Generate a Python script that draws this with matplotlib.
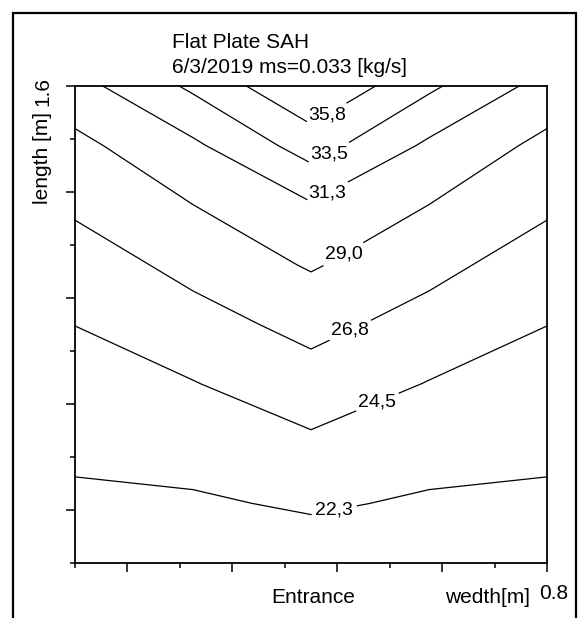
import matplotlib.pyplot as plt
from matplotlib.patches import Rectangle
import numpy as np

plt.rcParams['font.family'] = ['Liberation Sans', 'DejaVu Sans']

# grid of the plate: width [m] columns, length [m] rows
width_x = [0.0, 0.2, 0.4, 0.6, 0.8]
length_y = [0.0, 0.2, 0.4, 0.6, 0.8, 1.0, 1.2, 1.4, 1.6]

# temperatures on the grid (rows = length, cols = width)
temp = [
    [21.0, 21.0, 21.0, 21.0, 21.0],
    [21.9, 22.0, 22.6, 22.0, 21.9],
    [22.8, 23.3, 24.1, 23.3, 22.8],
    [23.7, 24.4, 25.8, 24.4, 23.7],
    [24.52, 25.9, 27.5, 25.9, 24.52],
    [25.6, 27.5, 29.2, 27.5, 25.6],
    [27.2, 28.98, 31.1, 28.98, 27.2],
    [28.4, 30.9, 34.5, 30.9, 28.4],
    [30.5, 33.9, 38.1, 33.9, 30.5],
]

levels = [22.3, 24.5, 26.8, 29.0, 31.3, 33.5, 35.8]

# where the contour labels sit (width, length)
label_pos = [(0.44, 0.171), (0.5125, 0.540), (0.4685, 0.772), (0.4567, 1.030),
             (0.4296, 1.236), (0.4296, 1.376), (0.4296, 1.493)]

W, H = 586, 618
fig = plt.figure(figsize=(W / 100, H / 100), dpi=100)
ax = fig.add_axes([75 / W, 1 - 563 / H, (547 - 75) / W, (563 - 86) / H])

cs = ax.contour(width_x, length_y, np.array(temp), levels=levels,
                colors='black', linewidths=0.9)
labels = ax.clabel(cs, inline=True, inline_spacing=4, fontsize=14,
                   fmt=lambda v: f'{v:.1f}'.replace('.', ','),
                   manual=label_pos)
for t in labels:
    t.set_rotation(0)

ax.set_xlim(0, 0.8)
ax.set_ylim(0, 1.6)

# 10 ticks per axis, long and short alternating
xt = np.linspace(0, 0.8, 10)
yt = np.linspace(0, 1.6, 10)
ax.set_xticks(xt[1::2])
ax.set_xticks(xt[0::2], minor=True)
ax.set_yticks(yt[1::2])
ax.set_yticks(yt[0::2], minor=True)
ax.tick_params(which='major', direction='out', length=6.5, width=1.1,
               labelbottom=False, labelleft=False)
ax.tick_params(which='minor', direction='out', length=3.5, width=1.1)
for s in ax.spines.values():
    s.set_linewidth(1.3)

# outer frame
fig.add_artist(Rectangle((13 / W, -0.02), (576 - 13) / W, 1 - 13 / H + 0.02,
                         transform=fig.transFigure, fill=False,
                         edgecolor='black', linewidth=1.6))

fs = 15
fig.text(172 / W, 1 - 48 / H, 'Flat Plate SAH', fontsize=fs, ha='left', va='baseline')
fig.text(172 / W, 1 - 73 / H, '6/3/2019 ms=0.033 [kg/s]', fontsize=fs,
         ha='left', va='baseline')
fig.text(43 / W, 1 - 158 / H, 'length [m]', fontsize=fs, rotation=90,
         ha='center', va='center')
fig.text(43 / W, 1 - 92 / H, '1.6', fontsize=fs, rotation=90,
         ha='center', va='center')
fig.text(313 / W, 1 - 603 / H, 'Entrance', fontsize=fs, ha='center', va='baseline')
fig.text(445 / W, 1 - 603 / H, 'wedth[m]', fontsize=fs, ha='left', va='baseline')
fig.text(554 / W, 1 - 599 / H, '0.8', fontsize=fs, ha='center', va='baseline')

fig.savefig('out.png', dpi=100)
